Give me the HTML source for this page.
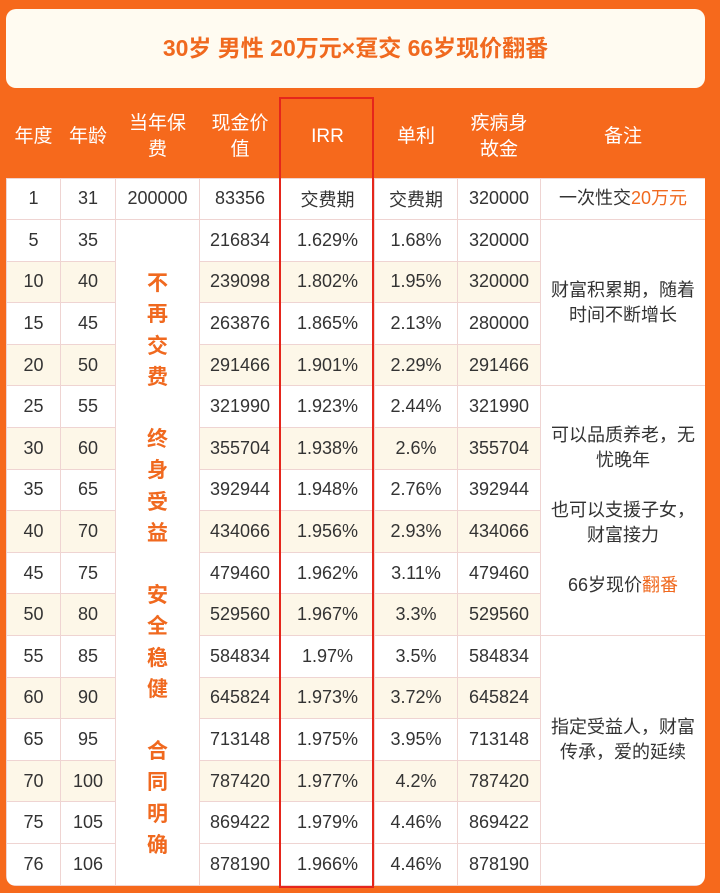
<!DOCTYPE html>
<html><head><meta charset="utf-8">
<style>
*{margin:0;padding:0;box-sizing:border-box}
body{width:720px;height:893px;background:#f6691c;position:relative;overflow:hidden;font-family:"Liberation Sans","Noto Sans CJK SC",sans-serif}
#title{position:absolute;left:6px;top:9px;width:699px;height:79px;background:#fffbf1;border-radius:10px;text-align:center;line-height:79px;color:#f0691f;font-weight:bold;font-size:23px}
#wrap{position:absolute;left:6px;top:97px;width:699px;height:789px;border-radius:0 0 10px 10px;overflow:hidden}
table{border-collapse:collapse;table-layout:fixed;width:699px}
th{background:#f6691c;color:#fff;font-weight:normal;font-size:19px;line-height:26px;height:81px;padding:0 4px}
td{background:#fff;border:1px solid #efd4d2;text-align:center;font-size:18px;color:#333;height:41.6px;padding:0}
tr.alt td.s{background:#fdf7e8}
td.v{color:#f0691f;font-weight:bold;font-size:21px;line-height:31.2px;vertical-align:top;padding-top:48px}
td.n{font-size:18px;line-height:25px;padding:0 6px}
.o{color:#f0691f}
#red{position:absolute;left:279px;top:97px;width:95px;height:791px;border:2px solid #e5261c}
</style></head><body>
<div id="title">30岁 男性 20万元×趸交 66岁现价翻番</div>
<div id="wrap">
<table>
<colgroup><col style="width:54px"><col style="width:55px"><col style="width:84px"><col style="width:81px"><col style="width:94px"><col style="width:83px"><col style="width:83px"><col style="width:165px"></colgroup>
<tr><th>年度</th><th>年龄</th><th>当年保<br>费</th><th>现金价<br>值</th><th>IRR</th><th>单利</th><th>疾病身<br>故金</th><th>备注</th></tr>
<tr><td>1</td><td>31</td><td>200000</td><td>83356</td><td>交费期</td><td>交费期</td><td>320000</td><td class="n">一次性交<span class="o">20万元</span></td></tr>
<tr><td class="s">5</td><td class="s">35</td><td class="v" rowspan="16">不<br>再<br>交<br>费<br><br>终<br>身<br>受<br>益<br><br>安<br>全<br>稳<br>健<br><br>合<br>同<br>明<br>确</td><td class="s">216834</td><td class="s">1.629%</td><td class="s">1.68%</td><td class="s">320000</td><td class="n" rowspan="4">财富积累期，随着时间不断增长</td></tr>
<tr class="alt"><td class="s">10</td><td class="s">40</td><td class="s">239098</td><td class="s">1.802%</td><td class="s">1.95%</td><td class="s">320000</td></tr>
<tr><td class="s">15</td><td class="s">45</td><td class="s">263876</td><td class="s">1.865%</td><td class="s">2.13%</td><td class="s">280000</td></tr>
<tr class="alt"><td class="s">20</td><td class="s">50</td><td class="s">291466</td><td class="s">1.901%</td><td class="s">2.29%</td><td class="s">291466</td></tr>
<tr><td class="s">25</td><td class="s">55</td><td class="s">321990</td><td class="s">1.923%</td><td class="s">2.44%</td><td class="s">321990</td><td class="n" rowspan="6">可以品质养老，无忧晚年<br><br>也可以支援子女，财富接力<br><br>66岁现价<span class="o">翻番</span></td></tr>
<tr class="alt"><td class="s">30</td><td class="s">60</td><td class="s">355704</td><td class="s">1.938%</td><td class="s">2.6%</td><td class="s">355704</td></tr>
<tr><td class="s">35</td><td class="s">65</td><td class="s">392944</td><td class="s">1.948%</td><td class="s">2.76%</td><td class="s">392944</td></tr>
<tr class="alt"><td class="s">40</td><td class="s">70</td><td class="s">434066</td><td class="s">1.956%</td><td class="s">2.93%</td><td class="s">434066</td></tr>
<tr><td class="s">45</td><td class="s">75</td><td class="s">479460</td><td class="s">1.962%</td><td class="s">3.11%</td><td class="s">479460</td></tr>
<tr class="alt"><td class="s">50</td><td class="s">80</td><td class="s">529560</td><td class="s">1.967%</td><td class="s">3.3%</td><td class="s">529560</td></tr>
<tr><td class="s">55</td><td class="s">85</td><td class="s">584834</td><td class="s">1.97%</td><td class="s">3.5%</td><td class="s">584834</td><td class="n" rowspan="5">指定受益人，财富传承，爱的延续</td></tr>
<tr class="alt"><td class="s">60</td><td class="s">90</td><td class="s">645824</td><td class="s">1.973%</td><td class="s">3.72%</td><td class="s">645824</td></tr>
<tr><td class="s">65</td><td class="s">95</td><td class="s">713148</td><td class="s">1.975%</td><td class="s">3.95%</td><td class="s">713148</td></tr>
<tr class="alt"><td class="s">70</td><td class="s">100</td><td class="s">787420</td><td class="s">1.977%</td><td class="s">4.2%</td><td class="s">787420</td></tr>
<tr><td class="s">75</td><td class="s">105</td><td class="s">869422</td><td class="s">1.979%</td><td class="s">4.46%</td><td class="s">869422</td></tr>
<tr><td class="s">76</td><td class="s">106</td><td class="s">878190</td><td class="s">1.966%</td><td class="s">4.46%</td><td class="s">878190</td><td></td></tr>
</table>
</div>
<div id="red"></div>
</body></html>
